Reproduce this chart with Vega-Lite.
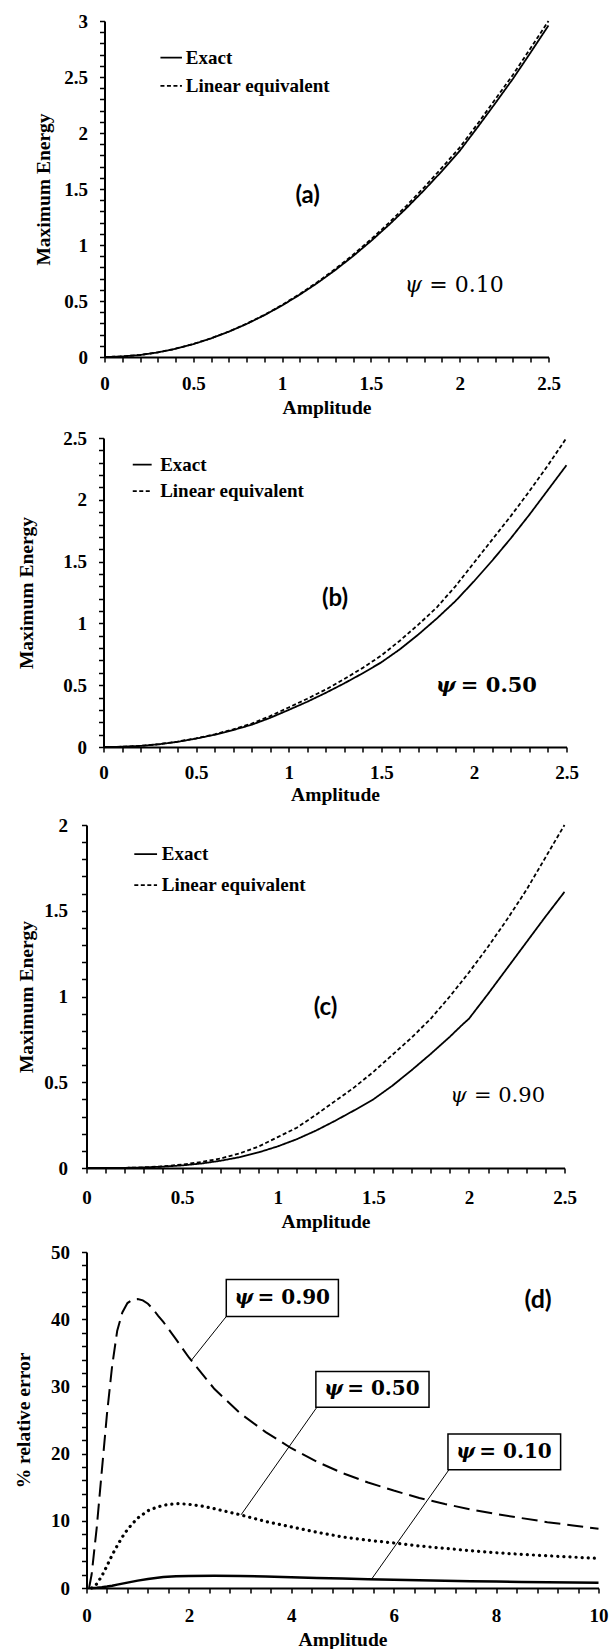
{
"$schema": "https://vega.github.io/schema/vega-lite/v6.json",
"background": "white",
"padding": {"left": 12.5, "top": 12, "right": 0, "bottom": 0},
"spacing": 12,
"config": {
  "view": {"stroke": null},
  "axis": {"domainColor": "black", "domainWidth": 2, "tickColor": "black", "tickWidth": 1.5, "tickSize": 5, "grid": false,
    "labelFont": "Liberation Serif", "labelFontWeight": "bold", "labelFontSize": 19, "labelColor": "black", "labelOverlap": false, "labelFlush": false,
    "titleFont": "Liberation Serif", "titleFontWeight": "bold", "titleFontSize": 19.5, "titleColor": "black", "format": "~g"}
},
"vconcat": [
 {"hconcat": [
   {"width": 18, "height": 1, "data": {"values": []}, "mark": "point"},
   {"width": 444, "height": 336,
    "encoding": {
      "x": {"field": "x", "type": "quantitative", "scale": {"domain": [0, 2.5], "nice": false},
        "axis": {"title": "Amplitude", "labelPadding": 12, "titlePadding": 5,
          "values": [0,0.1,0.2,0.3,0.4,0.5,0.6,0.7,0.8,0.9,1,1.1,1.2,1.3,1.4,1.5,1.6,1.7,1.8,1.9,2,2.1,2.2,2.3,2.4,2.5],
          "labelExpr": "datum.value % 0.5 === 0 ? datum.label : ''"}},
      "y": {"field": "y", "type": "quantitative", "scale": {"domain": [0, 3], "nice": false},
        "axis": {"title": "Maximum Energy", "labelPadding": 12, "titlePadding": 10,
          "values": [0,0.1,0.2,0.3,0.4,0.5,0.6,0.7,0.8,0.9,1,1.1,1.2,1.3,1.4,1.5,1.6,1.7,1.8,1.9,2,2.1,2.2,2.3,2.4,2.5,2.6,2.7,2.8,2.9,3],
          "labelExpr": "datum.value % 0.5 === 0 ? datum.label : ''"}}
    },
    "layer": [
     {"data": {"values": [
       {"x":0,"y":0,"s":"E"},{"x":0.1,"y":0.005,"s":"E"},{"x":0.2,"y":0.018,"s":"E"},{"x":0.3,"y":0.041,"s":"E"},{"x":0.4,"y":0.073,"s":"E"},{"x":0.5,"y":0.115,"s":"E"},{"x":0.6,"y":0.166,"s":"E"},{"x":0.7,"y":0.226,"s":"E"},{"x":0.8,"y":0.295,"s":"E"},{"x":0.9,"y":0.373,"s":"E"},{"x":1,"y":0.46,"s":"E"},{"x":1.1,"y":0.557,"s":"E"},{"x":1.2,"y":0.662,"s":"E"},{"x":1.3,"y":0.777,"s":"E"},{"x":1.4,"y":0.901,"s":"E"},{"x":1.5,"y":1.035,"s":"E"},{"x":1.6,"y":1.177,"s":"E"},{"x":1.7,"y":1.329,"s":"E"},{"x":1.8,"y":1.49,"s":"E"},{"x":1.9,"y":1.66,"s":"E"},{"x":2,"y":1.84,"s":"E"},{"x":2.1,"y":2.05,"s":"E"},{"x":2.2,"y":2.265,"s":"E"},{"x":2.3,"y":2.485,"s":"E"},{"x":2.4,"y":2.72,"s":"E"},{"x":2.5,"y":2.96,"s":"E"},
       {"x":0,"y":0,"s":"L"},{"x":0.1,"y":0.005,"s":"L"},{"x":0.2,"y":0.018,"s":"L"},{"x":0.3,"y":0.041,"s":"L"},{"x":0.4,"y":0.074,"s":"L"},{"x":0.5,"y":0.116,"s":"L"},{"x":0.6,"y":0.167,"s":"L"},{"x":0.7,"y":0.228,"s":"L"},{"x":0.8,"y":0.297,"s":"L"},{"x":0.9,"y":0.376,"s":"L"},{"x":1,"y":0.465,"s":"L"},{"x":1.1,"y":0.563,"s":"L"},{"x":1.2,"y":0.67,"s":"L"},{"x":1.3,"y":0.787,"s":"L"},{"x":1.4,"y":0.913,"s":"L"},{"x":1.5,"y":1.05,"s":"L"},{"x":1.6,"y":1.195,"s":"L"},{"x":1.7,"y":1.35,"s":"L"},{"x":1.8,"y":1.515,"s":"L"},{"x":1.9,"y":1.69,"s":"L"},{"x":2,"y":1.87,"s":"L"},{"x":2.1,"y":2.08,"s":"L"},{"x":2.2,"y":2.3,"s":"L"},{"x":2.3,"y":2.52,"s":"L"},{"x":2.4,"y":2.76,"s":"L"},{"x":2.5,"y":3.0,"s":"L"}]},
      "mark": {"type": "line", "color": "black", "strokeWidth": 1.8},
      "encoding": {
        "detail": {"field": "s"},
        "strokeDash": {"field": "s", "type": "nominal", "scale": {"domain": ["E", "L"], "range": [[1, 0], [4, 2.5]]}, "legend": null}
      }},
     {"data": {"values": [{"x": 0.315, "x2": 0.436, "y": 2.673, "s": "E"}, {"x": 0.315, "x2": 0.436, "y": 2.42, "s": "L"}]},
      "mark": {"type": "rule", "color": "black", "strokeWidth": 1.8},
      "encoding": {"x2": {"field": "x2"},
        "strokeDash": {"field": "s", "type": "nominal", "scale": {"domain": ["E", "L"], "range": [[1, 0], [4, 2.5]]}, "legend": null}}},
     {"data": {"values": [{"x": 0.458, "y": 2.673, "t": "Exact"}, {"x": 0.458, "y": 2.42, "t": "Linear equivalent"}]},
      "mark": {"type": "text", "align": "left", "baseline": "middle", "font": "Liberation Serif", "fontWeight": "bold", "fontSize": 19, "color": "black"},
      "encoding": {"text": {"field": "t"}}},
     {"data": {"name": "psiA", "values": [{"x": 1.97, "y": 0.64, "p": "ψ", "t": "= 0.10"}]},
      "layer": [
       {"mark": {"type": "text", "align": "left", "baseline": "middle", "dx": -49.5, "font": "DejaVu Serif", "fontStyle": "italic", "fontSize": 22, "color": "black"},
        "encoding": {"text": {"field": "p"}}},
       {"mark": {"type": "text", "align": "left", "baseline": "middle", "dx": -25, "font": "DejaVu Serif", "fontSize": 22, "color": "black"},
        "encoding": {"text": {"field": "t"}}}
      ]},
     {"data": {"values": [{"x": 1.144, "y": 1.434, "t": "(a)"}]},
      "mark": {"type": "text", "align": "center", "baseline": "middle", "font": "Lato", "fontWeight": "bold", "fontSize": 24, "color": "black"},
      "encoding": {"text": {"field": "t"}}}
    ]}
  ], "spacing": 0, "bounds": "flush"},
 {"hconcat": [
   {"width": 17, "height": 1, "data": {"values": []}, "mark": "point"},
   {"width": 463, "height": 309,
    "encoding": {
      "x": {"field": "x", "type": "quantitative", "scale": {"domain": [0, 2.5], "nice": false},
        "axis": {"title": "Amplitude", "labelPadding": 11, "titlePadding": 3,
          "values": [0,0.1,0.2,0.3,0.4,0.5,0.6,0.7,0.8,0.9,1,1.1,1.2,1.3,1.4,1.5,1.6,1.7,1.8,1.9,2,2.1,2.2,2.3,2.4,2.5],
          "labelExpr": "datum.value % 0.5 === 0 ? datum.label : ''"}},
      "y": {"field": "y", "type": "quantitative", "scale": {"domain": [0, 2.5], "nice": false},
        "axis": {"title": "Maximum Energy", "labelPadding": 12, "titlePadding": 26.5,
          "values": [0,0.1,0.2,0.3,0.4,0.5,0.6,0.7,0.8,0.9,1,1.1,1.2,1.3,1.4,1.5,1.6,1.7,1.8,1.9,2,2.1,2.2,2.3,2.4,2.5],
          "labelExpr": "datum.value % 0.5 === 0 ? datum.label : ''"}}
    },
    "layer": [
     {"data": {"values": [
       {"x":0,"y":0,"s":"E"},{"x":0.1,"y":0.002,"s":"E"},{"x":0.2,"y":0.009,"s":"E"},{"x":0.3,"y":0.022,"s":"E"},{"x":0.4,"y":0.042,"s":"E"},{"x":0.5,"y":0.068,"s":"E"},{"x":0.6,"y":0.099,"s":"E"},{"x":0.7,"y":0.137,"s":"E"},{"x":0.8,"y":0.18,"s":"E"},{"x":0.9,"y":0.236,"s":"E"},{"x":1,"y":0.3,"s":"E"},{"x":1.1,"y":0.366,"s":"E"},{"x":1.2,"y":0.438,"s":"E"},{"x":1.3,"y":0.515,"s":"E"},{"x":1.4,"y":0.597,"s":"E"},{"x":1.5,"y":0.685,"s":"E"},{"x":1.6,"y":0.79,"s":"E"},{"x":1.7,"y":0.91,"s":"E"},{"x":1.8,"y":1.04,"s":"E"},{"x":1.9,"y":1.18,"s":"E"},{"x":1.95,"y":1.26,"s":"E"},{"x":2,"y":1.34,"s":"E"},{"x":2.1,"y":1.51,"s":"E"},{"x":2.2,"y":1.69,"s":"E"},{"x":2.3,"y":1.88,"s":"E"},{"x":2.4,"y":2.08,"s":"E"},{"x":2.5,"y":2.28,"s":"E"},
       {"x":0,"y":0,"s":"L"},{"x":0.1,"y":0.002,"s":"L"},{"x":0.2,"y":0.009,"s":"L"},{"x":0.3,"y":0.023,"s":"L"},{"x":0.4,"y":0.044,"s":"L"},{"x":0.5,"y":0.07,"s":"L"},{"x":0.6,"y":0.103,"s":"L"},{"x":0.7,"y":0.143,"s":"L"},{"x":0.8,"y":0.19,"s":"L"},{"x":0.9,"y":0.25,"s":"L"},{"x":1,"y":0.32,"s":"L"},{"x":1.1,"y":0.39,"s":"L"},{"x":1.2,"y":0.465,"s":"L"},{"x":1.3,"y":0.55,"s":"L"},{"x":1.4,"y":0.64,"s":"L"},{"x":1.5,"y":0.74,"s":"L"},{"x":1.6,"y":0.86,"s":"L"},{"x":1.7,"y":0.99,"s":"L"},{"x":1.8,"y":1.13,"s":"L"},{"x":1.9,"y":1.3,"s":"L"},{"x":2,"y":1.49,"s":"L"},{"x":2.1,"y":1.68,"s":"L"},{"x":2.2,"y":1.87,"s":"L"},{"x":2.3,"y":2.07,"s":"L"},{"x":2.4,"y":2.28,"s":"L"},{"x":2.5,"y":2.5,"s":"L"}]},
      "mark": {"type": "line", "color": "black", "strokeWidth": 1.8},
      "encoding": {
        "detail": {"field": "s"},
        "strokeDash": {"field": "s", "type": "nominal", "scale": {"domain": ["E", "L"], "range": [[1, 0], [4, 2.5]]}, "legend": null}
      }},
     {"data": {"values": [{"x": 0.158, "x2": 0.26, "y": 2.284, "s": "E"}, {"x": 0.158, "x2": 0.26, "y": 2.07, "s": "L"}]},
      "mark": {"type": "rule", "color": "black", "strokeWidth": 1.8},
      "encoding": {"x2": {"field": "x2"},
        "strokeDash": {"field": "s", "type": "nominal", "scale": {"domain": ["E", "L"], "range": [[1, 0], [4, 2.5]]}, "legend": null}}},
     {"data": {"values": [{"x": 0.306, "y": 2.284, "t": "Exact"}, {"x": 0.306, "y": 2.07, "t": "Linear equivalent"}]},
      "mark": {"type": "text", "align": "left", "baseline": "middle", "font": "Liberation Serif", "fontWeight": "bold", "fontSize": 19, "color": "black"},
      "encoding": {"text": {"field": "t"}}},
     {"data": {"values": [{"x": 2.07, "y": 0.49, "p": "ψ", "t": "= 0.50"}]},
      "layer": [
       {"mark": {"type": "text", "align": "left", "baseline": "middle", "dx": -50.8, "font": "DejaVu Serif", "fontStyle": "italic", "fontWeight": "bold", "fontSize": 21, "color": "black"},
        "encoding": {"text": {"field": "p"}}},
       {"mark": {"type": "text", "align": "left", "baseline": "middle", "dx": -26, "font": "DejaVu Serif", "fontWeight": "bold", "fontSize": 21, "color": "black"},
        "encoding": {"text": {"field": "t"}}}
      ]},
     {"data": {"values": [{"x": 1.25, "y": 1.2, "t": "(b)"}]},
      "mark": {"type": "text", "align": "center", "baseline": "middle", "font": "Lato", "fontWeight": "bold", "fontSize": 24, "color": "black"},
      "encoding": {"text": {"field": "t"}}}
    ]}
  ], "spacing": 0, "bounds": "flush"},
 {"width": 478, "height": 343,
  "encoding": {
    "x": {"field": "x", "type": "quantitative", "scale": {"domain": [0, 2.5], "nice": false},
      "axis": {"title": "Amplitude", "labelPadding": 15, "titlePadding": 5,
        "values": [0,0.1,0.2,0.3,0.4,0.5,0.6,0.7,0.8,0.9,1,1.1,1.2,1.3,1.4,1.5,1.6,1.7,1.8,1.9,2,2.1,2.2,2.3,2.4,2.5],
        "labelExpr": "datum.value % 0.5 === 0 ? datum.label : ''"}},
    "y": {"field": "y", "type": "quantitative", "scale": {"domain": [0, 2], "nice": false},
      "axis": {"title": "Maximum Energy", "labelPadding": 14, "titlePadding": 7,
        "values": [0,0.1,0.2,0.3,0.4,0.5,0.6,0.7,0.8,0.9,1,1.1,1.2,1.3,1.4,1.5,1.6,1.7,1.8,1.9,2],
        "labelExpr": "datum.value % 0.5 === 0 ? datum.label : ''"}}
  },
  "layer": [
   {"data": {"values": [
     {"x":0,"y":0,"s":"E"},{"x":0.1,"y":0,"s":"E"},{"x":0.2,"y":0.001,"s":"E"},{"x":0.3,"y":0.003,"s":"E"},{"x":0.4,"y":0.008,"s":"E"},{"x":0.5,"y":0.015,"s":"E"},{"x":0.6,"y":0.026,"s":"E"},{"x":0.7,"y":0.042,"s":"E"},{"x":0.8,"y":0.063,"s":"E"},{"x":0.9,"y":0.091,"s":"E"},{"x":1,"y":0.126,"s":"E"},{"x":1.1,"y":0.168,"s":"E"},{"x":1.2,"y":0.218,"s":"E"},{"x":1.3,"y":0.275,"s":"E"},{"x":1.4,"y":0.336,"s":"E"},{"x":1.5,"y":0.4,"s":"E"},{"x":1.6,"y":0.48,"s":"E"},{"x":1.7,"y":0.57,"s":"E"},{"x":1.8,"y":0.665,"s":"E"},{"x":1.9,"y":0.765,"s":"E"},{"x":1.97,"y":0.84,"s":"E"},{"x":2,"y":0.87,"s":"E"},{"x":2.1,"y":1.015,"s":"E"},{"x":2.2,"y":1.165,"s":"E"},{"x":2.3,"y":1.315,"s":"E"},{"x":2.4,"y":1.465,"s":"E"},{"x":2.5,"y":1.61,"s":"E"},
     {"x":0,"y":0,"s":"L"},{"x":0.1,"y":0,"s":"L"},{"x":0.2,"y":0.001,"s":"L"},{"x":0.3,"y":0.004,"s":"L"},{"x":0.4,"y":0.01,"s":"L"},{"x":0.5,"y":0.02,"s":"L"},{"x":0.6,"y":0.035,"s":"L"},{"x":0.7,"y":0.055,"s":"L"},{"x":0.8,"y":0.085,"s":"L"},{"x":0.9,"y":0.125,"s":"L"},{"x":1,"y":0.18,"s":"L"},{"x":1.1,"y":0.235,"s":"L"},{"x":1.2,"y":0.31,"s":"L"},{"x":1.3,"y":0.39,"s":"L"},{"x":1.4,"y":0.47,"s":"L"},{"x":1.5,"y":0.56,"s":"L"},{"x":1.6,"y":0.66,"s":"L"},{"x":1.7,"y":0.76,"s":"L"},{"x":1.8,"y":0.87,"s":"L"},{"x":1.9,"y":1.0,"s":"L"},{"x":2,"y":1.14,"s":"L"},{"x":2.1,"y":1.29,"s":"L"},{"x":2.2,"y":1.45,"s":"L"},{"x":2.3,"y":1.62,"s":"L"},{"x":2.4,"y":1.81,"s":"L"},{"x":2.5,"y":2.0,"s":"L"}]},
    "mark": {"type": "line", "color": "black", "strokeWidth": 1.8},
    "encoding": {
      "detail": {"field": "s"},
      "strokeDash": {"field": "s", "type": "nominal", "scale": {"domain": ["E", "L"], "range": [[1, 0], [4, 2.5]]}, "legend": null}
    }},
   {"data": {"values": [{"x": 0.25, "x2": 0.369, "y": 1.83, "s": "E"}, {"x": 0.25, "x2": 0.369, "y": 1.65, "s": "L"}]},
    "mark": {"type": "rule", "color": "black", "strokeWidth": 1.8},
    "encoding": {"x2": {"field": "x2"},
      "strokeDash": {"field": "s", "type": "nominal", "scale": {"domain": ["E", "L"], "range": [[1, 0], [4, 2.5]]}, "legend": null}}},
   {"data": {"values": [{"x": 0.394, "y": 1.83, "t": "Exact"}, {"x": 0.394, "y": 1.65, "t": "Linear equivalent"}]},
    "mark": {"type": "text", "align": "left", "baseline": "middle", "font": "Liberation Serif", "fontWeight": "bold", "fontSize": 19, "color": "black"},
    "encoding": {"text": {"field": "t"}}},
   {"data": {"values": [{"x": 2.15, "y": 0.42, "p": "ψ", "t": "= 0.90"}]},
    "layer": [
     {"mark": {"type": "text", "align": "left", "baseline": "middle", "dx": -47.4, "font": "DejaVu Serif", "fontStyle": "italic", "fontSize": 21, "color": "black"},
      "encoding": {"text": {"field": "p"}}},
     {"mark": {"type": "text", "align": "left", "baseline": "middle", "dx": -23.6, "font": "DejaVu Serif", "fontSize": 21, "color": "black"},
      "encoding": {"text": {"field": "t"}}}
    ]},
   {"data": {"values": [{"x": 1.25, "y": 0.935, "t": "(c)"}]},
    "mark": {"type": "text", "align": "center", "baseline": "middle", "font": "Lato", "fontWeight": "bold", "fontSize": 24, "color": "black"},
    "encoding": {"text": {"field": "t"}}}
  ]},
 {"width": 512, "height": 336,
  "encoding": {
    "x": {"field": "x", "type": "quantitative", "scale": {"domain": [0, 10], "nice": false},
      "axis": {"title": "Amplitude", "labelPadding": 13, "titlePadding": 5,
        "values": [0,0.4,0.8,1.2,1.6,2,2.4,2.8,3.2,3.6,4,4.4,4.8,5.2,5.6,6,6.4,6.8,7.2,7.6,8,8.4,8.8,9.2,9.6,10],
        "labelExpr": "datum.value % 2 === 0 ? datum.label : ''"}},
    "y": {"field": "y", "type": "quantitative", "scale": {"domain": [0, 50], "nice": false},
      "axis": {"title": "% relative error", "labelPadding": 12, "titlePadding": 17.5,
        "values": [0,2,4,6,8,10,12,14,16,18,20,22,24,26,28,30,32,34,36,38,40,42,44,46,48,50],
        "labelExpr": "datum.value % 10 === 0 ? datum.label : ''"}}
  },
  "layer": [
   {"data": {"values": [
     {"x":0.05,"y":0},{"x":0.1,"y":2},{"x":0.2,"y":9},{"x":0.3,"y":17.5},{"x":0.4,"y":25.9},{"x":0.5,"y":33},{"x":0.6,"y":38.3},{"x":0.7,"y":41},{"x":0.8,"y":42.4},{"x":0.9,"y":42.9},{"x":1,"y":43},{"x":1.1,"y":42.8},{"x":1.2,"y":42.3},{"x":1.3,"y":41.5},{"x":1.4,"y":40.5},{"x":1.5,"y":39.6},{"x":1.75,"y":37},{"x":2,"y":34.3},{"x":2.5,"y":29.6},{"x":3,"y":26},{"x":3.5,"y":23.2},{"x":4,"y":20.8},{"x":4.5,"y":18.8},{"x":5,"y":17.1},{"x":5.5,"y":15.7},{"x":6,"y":14.5},{"x":6.5,"y":13.4},{"x":7,"y":12.5},{"x":7.5,"y":11.7},{"x":8,"y":11},{"x":8.5,"y":10.4},{"x":9,"y":9.8},{"x":9.5,"y":9.3},{"x":10,"y":8.8}]},
    "mark": {"type": "line", "color": "black", "strokeWidth": 2, "strokeDash": [16, 7]}},
   {"data": {"values": [
     {"x":0.1,"y":0},{"x":0.2,"y":0.6},{"x":0.3,"y":1.8},{"x":0.4,"y":3.3},{"x":0.5,"y":4.9},{"x":0.6,"y":6.3},{"x":0.7,"y":7.6},{"x":0.8,"y":8.7},{"x":0.9,"y":9.6},{"x":1,"y":10.4},{"x":1.2,"y":11.5},{"x":1.4,"y":12.1},{"x":1.6,"y":12.45},{"x":1.8,"y":12.55},{"x":2,"y":12.45},{"x":2.25,"y":12.2},{"x":2.5,"y":11.8},{"x":3,"y":10.9},{"x":3.5,"y":9.9},{"x":4,"y":9.1},{"x":4.5,"y":8.3},{"x":5,"y":7.6},{"x":5.5,"y":7.1},{"x":6,"y":6.7},{"x":6.5,"y":6.25},{"x":7,"y":5.9},{"x":7.5,"y":5.55},{"x":8,"y":5.25},{"x":8.5,"y":5},{"x":9,"y":4.8},{"x":9.5,"y":4.6},{"x":10,"y":4.4}]},
    "mark": {"type": "line", "color": "black", "strokeWidth": 3.2, "strokeCap": "round", "strokeDash": [0.1, 6]}},
   {"data": {"values": [
     {"x":0.1,"y":0},{"x":0.2,"y":0.05},{"x":0.3,"y":0.12},{"x":0.4,"y":0.22},{"x":0.5,"y":0.35},{"x":0.6,"y":0.5},{"x":0.8,"y":0.8},{"x":1,"y":1.1},{"x":1.2,"y":1.35},{"x":1.5,"y":1.62},{"x":1.75,"y":1.75},{"x":2,"y":1.8},{"x":2.5,"y":1.82},{"x":3,"y":1.78},{"x":3.5,"y":1.7},{"x":4,"y":1.6},{"x":4.5,"y":1.5},{"x":5,"y":1.4},{"x":5.5,"y":1.32},{"x":6,"y":1.23},{"x":6.5,"y":1.15},{"x":7,"y":1.08},{"x":7.5,"y":1},{"x":8,"y":0.95},{"x":8.5,"y":0.9},{"x":9,"y":0.86},{"x":9.5,"y":0.82},{"x":10,"y":0.78}]},
    "mark": {"type": "line", "color": "black", "strokeWidth": 2.5}},
   {"data": {"values": [
     {"x": 2.73, "y": 40.4, "x2": 2.05, "y2": 33.9},
     {"x": 4.5, "y": 26.9, "x2": 3.02, "y2": 10.9},
     {"x": 7.08, "y": 17.6, "x2": 5.57, "y2": 1.34}]},
    "mark": {"type": "rule", "color": "black", "strokeWidth": 1},
    "encoding": {"x2": {"field": "x2"}, "y2": {"field": "y2"}}},
   {"data": {"values": [
     {"x": 2.73, "x2": 4.92, "y": 40.4, "y2": 45.9},
     {"x": 4.48, "x2": 6.69, "y": 26.9, "y2": 32.2},
     {"x": 7.06, "x2": 9.26, "y": 17.6, "y2": 22.9}]},
    "mark": {"type": "rect", "fill": "white", "stroke": "black", "strokeWidth": 1.5},
    "encoding": {"x2": {"field": "x2"}, "y2": {"field": "y2"}}},
   {"data": {"values": [
     {"x": 3.83, "y": 43.15, "p": "ψ", "t": "= 0.90"},
     {"x": 5.58, "y": 29.55, "p": "ψ", "t": "= 0.50"},
     {"x": 8.16, "y": 20.25, "p": "ψ", "t": "= 0.10"}]},
    "layer": [
     {"mark": {"type": "text", "align": "left", "baseline": "middle", "dx": -48, "font": "DejaVu Serif", "fontStyle": "italic", "fontWeight": "bold", "fontSize": 20, "color": "black"},
      "encoding": {"text": {"field": "p"}}},
     {"mark": {"type": "text", "align": "left", "baseline": "middle", "dx": -25, "font": "DejaVu Serif", "fontWeight": "bold", "fontSize": 20, "color": "black"},
      "encoding": {"text": {"field": "t"}}}
    ]},
   {"data": {"values": [{"x": 8.82, "y": 42.8, "t": "(d)"}]},
    "mark": {"type": "text", "align": "center", "baseline": "middle", "font": "Lato", "fontWeight": "bold", "fontSize": 25, "color": "black"},
    "encoding": {"text": {"field": "t"}}}
  ]}
]
}
